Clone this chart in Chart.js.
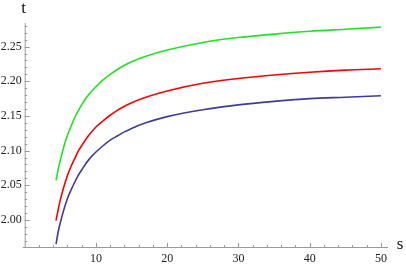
<!DOCTYPE html>
<html>
<head>
<meta charset="utf-8">
<script src="https://cdn.jsdelivr.net/npm/chart.js@4.4.1/dist/chart.umd.min.js"></script>
<style>
  html, body { margin: 0; padding: 0; background: #fff; }
  #wrap { position: relative; width: 406px; height: 267px; }
</style>
</head>
<body>
<div id="wrap"><canvas id="chart"></canvas></div>
<script>
// s values (shared by all three curves)
const sValues = [4.4, 4.7, 5, 5.5, 6, 6.5, 7, 7.5, 8, 8.5, 9, 10, 11, 12, 13, 14, 15, 17, 20, 25, 30, 35, 40, 45, 50];
// t values
const greenT = [2.057, 2.073, 2.086, 2.106, 2.122, 2.135, 2.147, 2.157, 2.166, 2.174, 2.181, 2.192, 2.202, 2.210, 2.217, 2.223, 2.228,
                2.236, 2.245, 2.256, 2.263, 2.268, 2.272, 2.275, 2.278];
const redT   = [1.999, 2.015, 2.029, 2.048, 2.064, 2.077, 2.088, 2.099, 2.107, 2.115, 2.122, 2.134, 2.143, 2.151, 2.158, 2.164, 2.169,
                2.177, 2.186, 2.197, 2.204, 2.209, 2.213, 2.216, 2.218];
const blueT  = [1.965, 1.983, 1.996, 2.015, 2.031, 2.043, 2.054, 2.064, 2.072, 2.080, 2.087, 2.098, 2.107, 2.115, 2.121, 2.127, 2.132,
                2.140, 2.149, 2.159, 2.166, 2.171, 2.175, 2.177, 2.179];
// tick labels
const xTicks = [10, 20, 30, 40, 50];
const yTicks = [2.00, 2.05, 2.10, 2.15, 2.20, 2.25];
const xMinor = [2, 4, 6, 8, 12, 14, 16, 18, 22, 24, 26, 28, 32, 34, 36, 38, 42, 44, 46, 48, 50];
const yMinor = [1.97, 1.98, 1.99, 2.01, 2.02, 2.03, 2.04, 2.06, 2.07, 2.08, 2.09, 2.11, 2.12, 2.13, 2.14,
                2.16, 2.17, 2.18, 2.19, 2.21, 2.22, 2.23, 2.24, 2.26, 2.27, 2.28];

const toPoints = ts => sValues.map((s, i) => ({ x: s, y: ts[i] }));
const axisGray = '#9a9a9a';
const serif = '"Liberation Serif", "DejaVu Serif", serif';

// inward tick marks + axis names, Mathematica style
const axesPlugin = {
  id: 'axesPlugin',
  afterDraw(chart) {
    const { ctx, scales: { x, y } } = chart;
    const x0 = x.getPixelForValue(0);
    const y0 = y.getPixelForValue(y.min);
    ctx.save();
    ctx.strokeStyle = axisGray;
    ctx.lineWidth = 1;
    ctx.beginPath();
    // axes lines
    ctx.moveTo(x0 - 2, y0 + 0.5); ctx.lineTo(x.right, y0 + 0.5);
    ctx.moveTo(x0 + 0.5, y0); ctx.lineTo(x0 + 0.5, y.top);
    xTicks.forEach(v => { const p = Math.round(x.getPixelForValue(v)) + 0.5; ctx.moveTo(p, y0); ctx.lineTo(p, y0 - 4); });
    xMinor.forEach(v => { const p = Math.round(x.getPixelForValue(v)) + 0.5; ctx.moveTo(p, y0); ctx.lineTo(p, y0 - 2); });
    yTicks.forEach(v => { const p = Math.round(y.getPixelForValue(v)) + 0.5; ctx.moveTo(x0, p); ctx.lineTo(x0 + 5, p); });
    yMinor.forEach(v => { const p = Math.round(y.getPixelForValue(v)) + 0.5; ctx.moveTo(x0, p); ctx.lineTo(x0 + 2.5, p); });
    ctx.stroke();

    ctx.fillStyle = '#111';
    ctx.font = '17px ' + serif;
    ctx.textAlign = 'center';
    ctx.textBaseline = 'middle';
    ctx.fillText('t', x0 - 1, 9);
    ctx.fillText('s', 400, 245);
    ctx.restore();
  }
};

new Chart(document.getElementById('chart'), {
  type: 'line',
  data: {
    datasets: [
      { label: 'green', data: toPoints(greenT), borderColor: '#1ee61e' },
      { label: 'red', data: toPoints(redT), borderColor: '#ff0000' },
      { label: 'blue', data: toPoints(blueT), borderColor: '#3d3d99' }
    ]
  },
  options: {
    responsive: true, maintainAspectRatio: false,
    animation: false,
    layout: { padding: { top: 23, right: 18, left: 0, bottom: 0 } },
    elements: {
      point: { radius: 0 },
      line: { borderWidth: 1.6, cubicInterpolationMode: 'monotone', fill: false }
    },
    plugins: { legend: { display: false }, tooltip: { enabled: false } },
    scales: {
      x: {
        type: 'linear', min: 0, max: 51,
        border: { display: false },
        grid: { display: false, drawTicks: false },
        afterFit: s => { s.height = 20; },
        afterBuildTicks: s => { s.ticks = xTicks.map(v => ({ value: v })); },
        ticks: { padding: 5, color: '#222', font: { family: serif, size: 12 } }
      },
      y: {
        type: 'linear', min: 1.961, max: 2.284,
        border: { display: false },
        grid: { display: false, drawTicks: false },
        afterFit: s => { s.width = 24.7; },
        afterBuildTicks: s => { s.ticks = yTicks.map(v => ({ value: v })); },
        ticks: { padding: 3, color: '#222', font: { family: serif, size: 12 }, callback: v => v.toFixed(2) }
      }
    }
  },
  plugins: [axesPlugin]
});
</script>
</body>
</html>
